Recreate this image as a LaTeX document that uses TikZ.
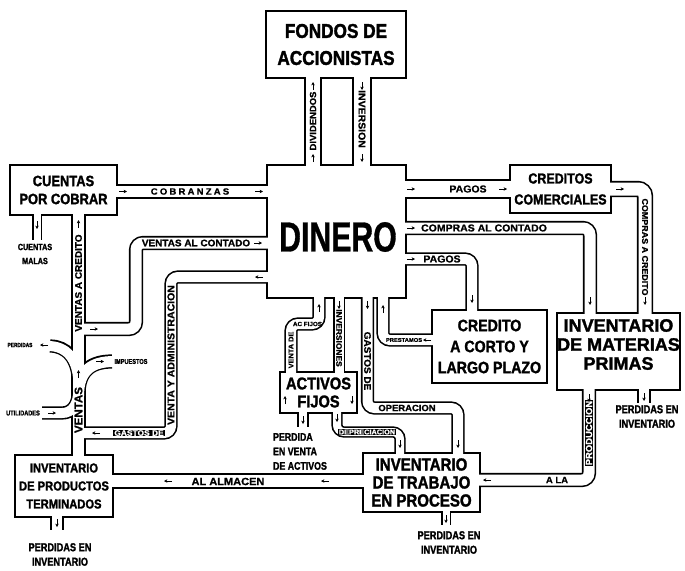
\documentclass[tikz,border=0pt]{standalone}
\usepackage{fontspec}
\setmainfont{Liberation Sans}
\newfontfamily\boxfont{Liberation Sans}[FakeStretch=0.86, BoldFeatures={FakeBold=1.6}]
\newfontfamily\wideboxfont{Liberation Sans}[FakeStretch=1.0, BoldFeatures={FakeBold=1.6}]
\newfontfamily\dinfont{Liberation Sans}[FakeStretch=0.72, BoldFeatures={FakeBold=0.8}]
\newfontfamily\lblfont{Liberation Sans}[FakeStretch=1.05, BoldFeatures={FakeBold=1}]
\newfontfamily\outfont{Liberation Sans}[FakeStretch=0.8, BoldFeatures={FakeBold=1.6}]
\usetikzlibrary{arrows.meta}

\newcommand\fs[2]{\fontsize{#1}{#2}\selectfont}
\newcommand\lf[1]{\lblfont\bfseries\fontsize{#1}{#1}\selectfont}

\begin{document}
\begin{tikzpicture}[x=1pt,y=-1pt,
    box/.style={draw, line width=1.6pt, fill=white, inner sep=0pt, align=center},
    lbl/.style={inner sep=0pt, font=\lf{9}},
    hvy/.style={fill=black, text=white, inner xsep=1pt, inner ysep=0.6pt},
    outlbl/.style={inner sep=0pt, align=center, font=\outfont\bfseries\fs{11.5}{14.5}},
    arr/.style={-{Stealth[length=3.4pt,width=3.4pt]}, line width=0.8pt},
    outer pass/.style={draw=black, line width=#1pt+3.2pt},
    inner pass/.style={draw=white, line width=#1pt, shorten <=-2pt, shorten >=-2pt}]

\useasboundingbox (0,0) rectangle (685,570);
\fill[white] (0,0) rectangle (685,570);

% cajas
\node[box, minimum width=140pt, minimum height=67pt, font=\boxfont\bfseries\fs{20}{27}] (fon) at (336,44.5) {FONDOS DE\\ACCIONISTAS};
\node[box, minimum width=139pt, minimum height=133pt] (din) at (336.5,231.5) {};
\node[box, minimum width=107pt, minimum height=50pt, font=\boxfont\bfseries\fs{15}{18}] (cxc) at (63.5,190) {CUENTAS\\POR COBRAR};
\node[box, minimum width=101pt, minimum height=48pt, font=\boxfont\bfseries\fs{14.5}{21}] (ccom) at (560.5,189) {CREDITOS\\COMERCIALES};
\node[box, minimum width=115pt, minimum height=73pt, font=\boxfont\bfseries\fs{16.5}{21}] (cred) at (489.5,346.5) {CREDITO\\A CORTO Y\\LARGO PLAZO};
\node[box, minimum width=123pt, minimum height=77pt] (imp) at (618.5,351.5) {};
\node[box, minimum width=77pt, minimum height=41pt, font=\boxfont\bfseries\fs{17}{18}] (af) at (318.5,392.5) {ACTIVOS\\FIJOS};
\node[box, minimum width=117pt, minimum height=59pt, font=\boxfont\bfseries\fs{17.5}{18}] (ipp) at (421.5,482.5) {INVENTARIO\\DE TRABAJO\\EN PROCESO};
\node[box, minimum width=98pt, minimum height=62pt, font=\boxfont\bfseries\fs{13}{18}] (ipt) at (64,486) {INVENTARIO\\DE PRODUCTOS\\TERMINADOS};

% conductos: primero las paredes, luego el hueco
\def\pp#1#2{\draw[pipe pass=#1, rounded corners=7pt] #2;}
\def\allpipes{
  \pp{14}{(fon.south -| 313,0) -- (din.north -| 313,0)}
  \pp{16}{(fon.south -| 362,0) -- (din.north -| 362,0)}
  \pp{11}{(cxc.east |- 0,191.5) -- (din.west |- 0,191.5)}
  \pp{16}{(din.east |- ccom.west) -- (ccom.west)}
  \pp{13}{(ccom.east) -- (645,189) -- (imp.north -| 645,0)}
  \pp{11}{(din.east |- 0,228) -- (590,228) -- (imp.north -| 590,0)}
  \pp{10}{(din.east |- 0,259) -- (472,259) -- (cred.north -| 472,0)}
  \pp{10}{(cred.west |- 0,340) -- (383,340) -- (din.south -| 383,0)}
  \pp{10}{(din.south -| 367.5,0) -- (367.5,408) -- (458,408) -- (ipp.north -| 458,0)}
  \pp{9}{(din.south -| 339,0) -- (af.north -| 339,0)}
  \pp{10}{(af.north -| 291,0) -- (291,324) -- (319,324) -- (din.south -| 319,0)}
  \pp{8}{(af.south -| 337,0) -- (337,432) -- (400,432) -- (ipp.north -| 400,0)}
  \pp{8}{(af.south -| 303,0) -- (303,427)}
  \pp{11}{(imp.south -| 589,0) -- (589,480) -- (ipp.east |- 0,480)}
  \pp{10}{(imp.south -| 644,0) -- (644,403)}
  \pp{7}{(ipp.south -| 446,0) -- (446,525)}
  \pp{12}{(ipp.west |- 0,481) -- (ipt.east |- 0,481)}
  \pp{10}{(ipt.south -| 57,0) -- (57,530)}
  \pp{7}{(cxc.south -| 37,0) -- (37,240)}
  \pp{11}{(ipt.north -| 78.5,0) -- (cxc.south -| 78.5,0)}
  \pp{11}{(din.west |- 0,243) -- (136,243) -- (136,329) -- (78.5,329)}
  \pp{10}{(din.west |- 0,277) -- (171,277) -- (171,433) -- (78.5,433)}
  \pp{11}{(78.5,394) .. controls (78.5,370) and (92,361.5) .. (112,361.5)}
  \pp{10}{(78.5,384) .. controls (78.5,358) and (66,346) .. (50,346)}
  \pp{10}{(42,413) -- (55,413) .. controls (72,413) and (78.5,405) .. (78.5,390)}
}
\tikzset{pipe pass/.style={outer pass=#1}}
\allpipes
\tikzset{pipe pass/.style={inner pass=#1}}
\allpipes

% textos de las cajas sin texto propio
\node[inner sep=0pt, font=\dinfont\bfseries\fs{42}{42}] (dintxt) at (338,237) {DINERO};
\node[inner sep=0pt, align=center, font=\wideboxfont\bfseries\fs{18}{19}] (imptxt) at (618.5,344.5) {INVENTARIO\\DE MATERIAS\\PRIMAS};

% rotulos dentro de los conductos
\node[lbl, rotate=90, font=\lf{9}] (ldiv) at (313,121) {DIVIDENDOS};
\node[lbl, rotate=-90, font=\lf{10}] (linv) at (362,119) {INVERSION};
\node[lbl, font=\lf{9}\addfontfeatures{LetterSpace=25}] (lcob) at (190,191.5) {COBRANZAS};
\node[lbl, font=\lf{10}] (lpag) at (468,189) {PAGOS};
\node[lbl, rotate=-90, font=\lf{8.5}] (lcac) at (645,247) {COMPRAS A CREDITO};
\node[lbl, font=\lf{10}] (lcco) at (484,228) {COMPRAS AL CONTADO};
\node[lbl, font=\lf{10}] (lpag2) at (442,259) {PAGOS};
\node[lbl, font=\lf{5.5}] (lpre) at (404,340) {PRESTAMOS};
\node[lbl, rotate=-90, font=\lf{9.5}] (lgop) at (367.5,361) {GASTOS DE};
\node[lbl, font=\lf{9}] (lope) at (407,408) {OPERACION};
\node[lbl, rotate=-90, font=\lf{8}] (linvs) at (339,338) {INVERSIONES};
\node[lbl, rotate=90, font=\lf{7}] (lvde) at (291,350) {VENTA DE};
\node[lbl, font=\lf{6}] (lacf) at (307.5,324) {AC FIJOS};
\node[lbl, hvy, font=\lf{7}] (ldep) at (367,432) {DEPRECIACION};
\node[lbl, font=\lf{9}] (lala) at (557,480) {A LA};
\node[lbl, hvy, rotate=90, font=\lf{9}] (lpro) at (589,433) {PRODUCCION};
\node[lbl, font=\lf{10.5}] (lalm) at (228,481.5) {AL ALMACEN};
\node[lbl, rotate=90, font=\lf{9.5}] (lvcr) at (78.5,283) {VENTAS A CREDITO};
\node[lbl, rotate=90, font=\lf{11}] (lven) at (78.5,410) {VENTAS};
\node[lbl, font=\lf{9.5}] (lvco) at (196,243) {VENTAS AL CONTADO};
\node[lbl, hvy, font=\lf{8}] (lgdv) at (139,433) {GASTOS DE};
\node[lbl, rotate=90, font=\lf{10}] (lvya) at (171,355) {VENTA Y ADMINISTRACION};

% rotulos de fuera
\node[outlbl, font=\outfont\bfseries\fs{9}{14}] (lcm) at (35,254) {CUENTAS\\MALAS};
\node[outlbl] (lpi1) at (60,554.5) {PERDIDAS EN\\INVENTARIO};
\node[outlbl] (lpi2) at (449,542.5) {PERDIDAS EN\\INVENTARIO};
\node[outlbl] (lpi3) at (647,416.5) {PERDIDAS EN\\INVENTARIO};
\node[outlbl, align=left, font=\outfont\bfseries\fs{11}{14.5}] (lpva) at (300,451.5) {PERDIDA\\EN VENTA\\DE ACTIVOS};
\node[outlbl, font=\outfont\bfseries\fs{6}{6}] (lper) at (20,345) {PERDIDAS};
\node[outlbl, font=\outfont\bfseries\fs{7}{7}] (luti) at (23,413) {UTILIDADES};
\node[outlbl, font=\outfont\bfseries\fs{7}{7}] (limp) at (131,361.5) {IMPUESTOS};

% flechas
\foreach \x/\y in {313/86, 313/158, 78.5/224, 78.5/374, 383/309, 319/308, 285/400}
  \draw[arr] (\x,\y) ++(0,4) -- ++(0,-8);
\foreach \x/\y in {362/86, 362/158, 645/301, 590/301, 472/299, 367.5/305, 339/305, 458/444, 400/444, 337/418, 303/420, 589/398, 644/397, 446/519, 57/523, 37/225, 352/400}
  \draw[arr] (\x,\y) ++(0,-4) -- ++(0,8);
\foreach \x/\y in {123/191.5, 259/191.5, 411/189, 503/189, 620/189, 411/228, 411/259, 258/243, 94/329, 100/361.5, 52/413}
  \draw[arr] (\x,\y) ++(-4,0) -- ++(8,0);
\foreach \x/\y in {427/340, 487/480, 168/481, 325/481, 44/345, 96/433, 259/277}
  \draw[arr] (\x,\y) ++(4,0) -- ++(-8,0);
\end{tikzpicture}
\end{document}
